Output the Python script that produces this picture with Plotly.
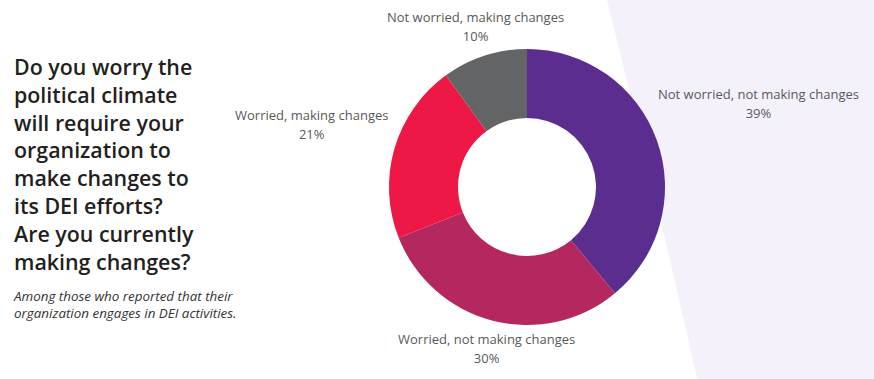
import math
import plotly.graph_objects as go

W, H = 874, 379

categories = ["Not worried, not making changes", "Worried, not making changes",
              "Worried, making changes", "Not worried, making changes"]
values = [39, 30, 21, 10]
colors = ["#5B2D8E", "#B5285F", "#EE1846", "#636466"]

title_lines = ["Do you worry the", "political climate", "will require your",
               "organization to", "make changes to", "its DEI efforts?",
               "Are you currently", "making changes?"]
subtitle_lines = ["Among those who reported that their",
                  "organization engages in DEI activities."]

# label placement style (pixel nudges per slice)
label_shift = [(-29, 27), (1, 1), (24, 16), (0, 1)]

FONT = "Open Sans"
CX, CY, R_OUT = 527, 187, 138   # donut centre / radius in pixels
LABEL_DIST = 30


def px(x):
    return x / W


def py(y):
    return 1 - y / H


def sized(lines, size):
    return "<br>".join(f'<span style="font-size:{size}px">{t}</span>' for t in lines)


fig = go.Figure()
fig.add_trace(go.Pie(
    labels=categories, values=values, sort=False, direction="clockwise",
    rotation=0, hole=0.5,
    marker=dict(colors=colors, line=dict(width=0)),
    textinfo="none", showlegend=False, hoverinfo="label+value",
    domain=dict(x=[px(CX - R_OUT), px(CX + R_OUT)], y=[py(CY + R_OUT), py(CY - R_OUT)]),
))

# data labels placed along each slice's mid-angle
total = sum(values)
cum = 0
for lab, v, (dx, dy) in zip(categories, values, label_shift):
    mid = (cum + v / 2) / total * 2 * math.pi
    cum += v
    s, c = math.sin(mid), math.cos(mid)
    rr = R_OUT + LABEL_DIST
    ax, ay = CX + rr * s, CY - rr * c
    if s > 0.6:
        xa = "left"
    elif s < -0.6:
        xa = "right"
    else:
        xa = "center"
    fig.add_annotation(x=px(ax), y=py(ay), xref="paper", yref="paper",
                       xanchor=xa, yanchor="middle", align="center", showarrow=False,
                       xshift=dx, yshift=dy,
                       text=sized([lab, f"{v}%"], 13),
                       font=dict(family=FONT, size=14.6, color="#58595B"))

# lavender decorative band on the right
fig.add_shape(type="path", xref="paper", yref="paper",
              path=f"M {px(607)},{py(0)} Q {px(655)},{py(190)} {px(697)},{py(379)} L 1,0 L 1,1 Z",
              fillcolor="#F4F1FA", line=dict(width=0), layer="below")

fig.add_annotation(x=px(12), y=py(50), xref="paper", yref="paper",
                   xanchor="left", yanchor="top", align="left", showarrow=False,
                   text="<br>".join(title_lines),
                   font=dict(family=FONT, size=21.4, weight=600, color="#231F20"))
fig.add_annotation(x=px(11), y=py(285), xref="paper", yref="paper",
                   xanchor="left", yanchor="top", align="left", showarrow=False,
                   text="<i>" + "<br>".join(subtitle_lines) + "</i>",
                   font=dict(family=FONT, size=13.4, color="#333333"))

fig.update_layout(width=W, height=H, margin=dict(l=0, r=0, t=0, b=0),
                  paper_bgcolor="white", plot_bgcolor="white")
fig.write_html("out.html", config={"displayModeBar": False},
               post_script="document.body.style.margin='0';document.body.style.overflow='hidden';")
